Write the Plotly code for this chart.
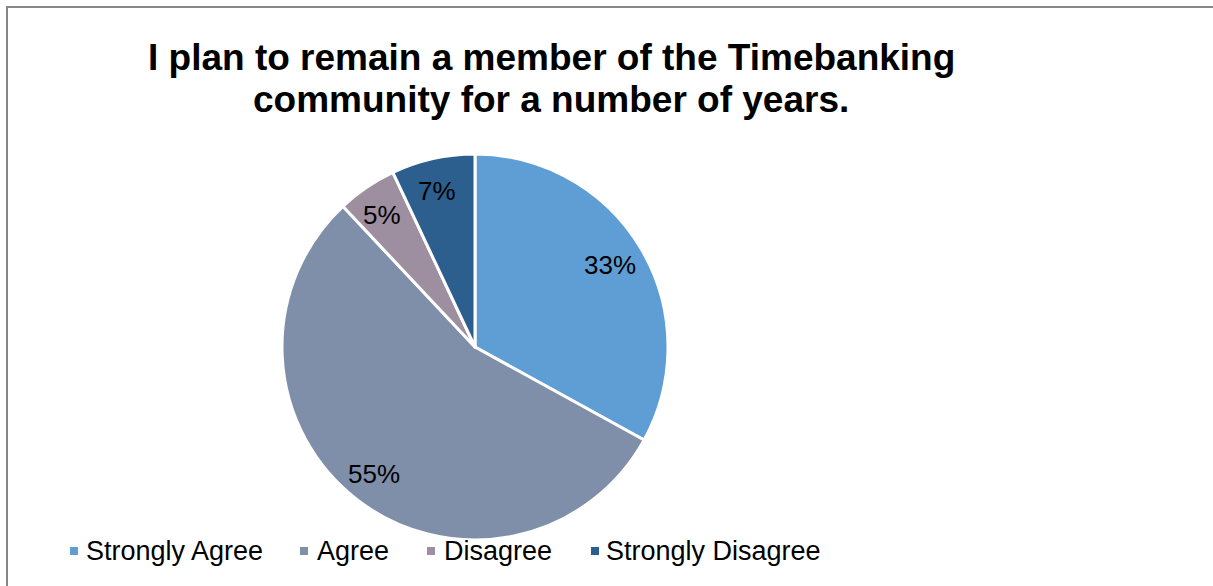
import math
import plotly.graph_objects as go

# Survey responses
categories = ["Strongly Agree", "Agree", "Disagree", "Strongly Disagree"]
shares = [33, 55, 5, 7]
colors = ["#5F9ED5", "#7F8FAA", "#9E8FA0", "#2C5E8E"]

title_lines = [
    "I plan to remain a member of the Timebanking",
    "community for a number of years.",
]

W, H = 1213, 586
font_family = "Liberation Sans, Arial, sans-serif"

# Pie placement in pixels (left, right, bottom, top measured from the lower-left corner)
pie_x = (282, 668)
pie_y = (46, 432)
label_radius = 0.83  # fraction of the radius where percentage labels sit

# Legend entry layout: square start and text start, in pixels from the left
legend_square_x = [70, 300, 427, 591]
legend_text_x = [84, 315, 442, 604]
legend_y = 551
legend_square = 8

fig = go.Figure(
    go.Pie(
        labels=categories,
        values=shares,
        sort=False,
        direction="clockwise",
        rotation=0,
        marker=dict(colors=colors, line=dict(color="white", width=3)),
        textinfo="none",
        hoverinfo="label+percent",
        showlegend=False,
        domain=dict(x=[pie_x[0] / W, pie_x[1] / W], y=[pie_y[0] / H, pie_y[1] / H]),
    )
)

annotations = []

# Title, two centred bold lines
for i, line in enumerate(title_lines):
    annotations.append(
        dict(
            text=f"<b>{line}</b>",
            xref="paper",
            yref="paper",
            x=551 / W,
            y=1 - (57 + 43 * i) / H,
            xanchor="center",
            yanchor="middle",
            showarrow=False,
            font=dict(family=font_family, size=37, color="black"),
        )
    )

# Percentage labels placed at each slice's mid-angle (clockwise from 12 o'clock)
cx = (pie_x[0] + pie_x[1]) / 2
cy = (pie_y[0] + pie_y[1]) / 2
r = (pie_x[1] - pie_x[0]) / 2
total = sum(shares)
cum = 0
for v in shares:
    mid = (cum + v / 2) / total * 2 * math.pi
    cum += v
    px = cx + label_radius * r * math.sin(mid)
    py = cy + label_radius * r * math.cos(mid)
    annotations.append(
        dict(
            text=f"{v}%",
            xref="paper",
            yref="paper",
            x=(px - 3) / W,
            y=py / H,
            xanchor="center",
            yanchor="middle",
            showarrow=False,
            font=dict(family=font_family, size=26, color="black"),
        )
    )

# Legend entries
shapes = []
for name, col, sx, tx in zip(categories, colors, legend_square_x, legend_text_x):
    shapes.append(
        dict(
            type="rect",
            xref="paper",
            yref="paper",
            x0=sx / W,
            x1=(sx + legend_square) / W,
            y0=1 - (legend_y + legend_square / 2) / H,
            y1=1 - (legend_y - legend_square / 2) / H,
            line=dict(width=0),
            fillcolor=col,
        )
    )
    annotations.append(
        dict(
            text=name,
            xref="paper",
            yref="paper",
            x=tx / W,
            y=1 - legend_y / H,
            xanchor="left",
            yanchor="middle",
            showarrow=False,
            font=dict(family=font_family, size=27, color="black"),
        )
    )

# Chart-area border running off the right and bottom edges
shapes.append(
    dict(
        type="rect",
        xref="paper",
        yref="paper",
        x0=7 / W,
        x1=1.05,
        y0=-0.05,
        y1=1 - 7 / H,
        line=dict(color="#878787", width=2),
        fillcolor="rgba(0,0,0,0)",
    )
)

fig.update_layout(
    width=W,
    height=H,
    margin=dict(l=0, r=0, t=0, b=0),
    paper_bgcolor="white",
    plot_bgcolor="white",
    annotations=annotations,
    shapes=shapes,
    showlegend=False,
)

fig.write_html("out.html")
